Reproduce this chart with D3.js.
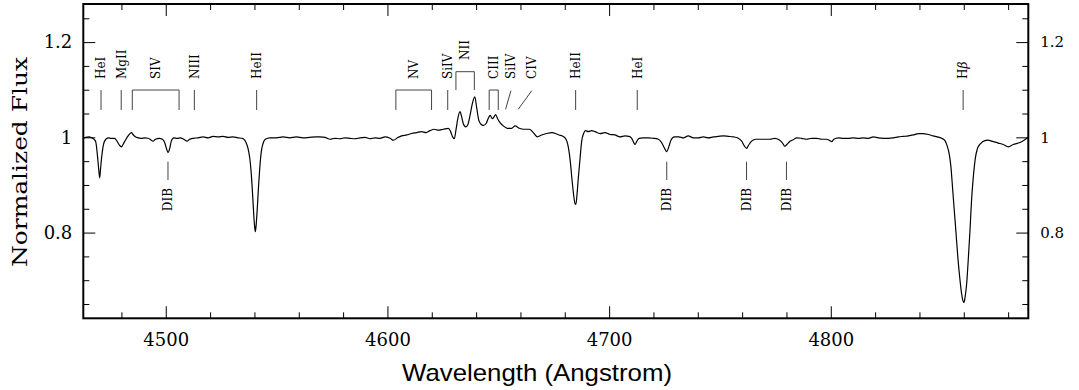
<!DOCTYPE html>
<html>
<head>
<meta charset="utf-8">
<script src="https://cdn.jsdelivr.net/npm/d3@7"></script>
<style>
  html, body { margin: 0; padding: 0; background: #fff; }
  svg { display: block; }
</style>
</head>
<body>
<svg id="chart" width="1079" height="390"></svg>
<script>
// ---------------- data ----------------
const spectrum = [
  [4462.8,0.999],[4464.0,1.000],[4465.5,1.001],[4467.0,0.998],[4468.0,0.994],[4468.4,0.991],[4469.3,0.956],[4469.7,0.935],
  [4470.2,0.915],[4470.6,0.935],[4471.1,0.959],[4471.7,0.980],[4472.4,0.992],[4474.0,0.999],[4475.4,0.998],[4476.9,0.998],
  [4478.0,0.992],[4478.9,0.985],[4480.0,0.980],[4480.7,0.985],[4481.8,0.994],[4483.0,1.003],[4484.5,1.010],[4485.2,1.006],
  [4486.3,1.001],[4487.5,0.999],[4489.0,0.998],[4490.5,0.999],[4492.0,0.998],[4493.2,0.995],[4494.2,0.992],[4495.4,0.996],
  [4497.0,0.998],[4498.5,0.996],[4499.5,0.989],[4500.3,0.977],[4501.0,0.968],[4501.8,0.977],[4502.5,0.992],[4503.6,0.999],
  [4505.1,0.998],[4506.6,0.999],[4508.1,0.996],[4509.6,0.992],[4510.8,0.996],[4512.3,0.998],[4514.6,0.999],[4516.8,1.001],
  [4519.1,0.999],[4521.3,1.002],[4523.6,1.001],[4525.8,1.002],[4528.1,1.000],[4530.3,1.001],[4532.6,0.999],[4534.6,0.998],
  [4535.6,0.994],[4536.4,0.987],[4537.1,0.977],[4537.9,0.956],[4538.5,0.928],[4539.1,0.886],[4539.7,0.837],[4540.1,0.812],
  [4540.4,0.802],[4540.7,0.812],[4541.2,0.844],[4541.8,0.893],[4542.4,0.935],[4543.1,0.970],[4543.9,0.987],[4544.9,0.996],
  [4546.9,0.999],[4549.9,0.999],[4552.9,1.001],[4555.9,0.999],[4558.9,1.001],[4561.9,0.999],[4564.9,1.000],[4567.9,1.001],
  [4569.6,1.001],[4571.8,1.000],[4574.1,0.996],[4576.3,0.998],[4578.6,0.997],[4580.9,0.999],[4583.1,0.998],[4585.4,0.997],
  [4587.6,0.999],[4589.9,1.000],[4592.1,0.997],[4594.4,0.999],[4596.6,0.998],[4598.9,1.001],[4601.2,0.998],[4602.7,0.994],
  [4604.5,0.999],[4606.4,1.003],[4608.7,1.005],[4610.9,1.008],[4613.2,1.010],[4615.4,1.012],[4617.4,1.010],[4619.2,1.014],
  [4621.0,1.017],[4623.0,1.015],[4625.2,1.017],[4627.5,1.019],[4628.5,1.012],[4629.4,1.001],[4630.2,0.997],[4630.9,1.015],
  [4631.7,1.038],[4632.7,1.054],[4633.5,1.043],[4634.2,1.029],[4635.3,1.022],[4636.2,1.026],[4637.3,1.047],[4638.3,1.071],
  [4639.4,1.085],[4640.3,1.061],[4641.2,1.036],[4642.1,1.028],[4643.3,1.025],[4644.5,1.029],[4645.5,1.040],[4646.4,1.046],
  [4647.3,1.039],[4648.1,1.043],[4648.8,1.048],[4649.7,1.039],[4650.8,1.031],[4652.3,1.024],[4654.1,1.019],[4656.0,1.019],
  [4657.6,1.024],[4659.5,1.019],[4661.6,1.017],[4664.0,1.017],[4665.8,1.010],[4667.6,1.001],[4669.6,1.005],[4671.8,1.008],
  [4674.1,1.010],[4676.4,1.007],[4677.4,1.005],[4678.9,1.003],[4680.1,0.999],[4681.0,0.991],[4681.7,0.977],[4682.5,0.949],
  [4683.2,0.914],[4684.0,0.879],[4684.6,0.861],[4685.0,0.859],[4685.5,0.879],[4686.1,0.914],[4686.9,0.956],[4687.6,0.991],
  [4688.5,1.008],[4689.4,1.014],[4690.6,1.012],[4692.1,1.014],[4693.6,1.012],[4695.9,1.008],[4698.1,1.010],[4700.4,1.006],
  [4702.6,1.005],[4704.9,1.001],[4707.2,1.003],[4709.0,1.002],[4710.2,0.998],[4711.1,0.989],[4711.7,0.985],[4712.4,0.991],
  [4713.5,0.998],[4715.4,0.999],[4717.7,0.999],[4719.9,0.998],[4722.2,0.996],[4723.7,0.989],[4724.9,0.978],[4726.0,0.970],
  [4726.9,0.980],[4727.9,0.994],[4729.4,1.001],[4731.5,1.001],[4733.5,0.999],[4735.7,1.003],[4738.0,0.999],[4740.2,0.999],
  [4742.5,1.001],[4744.8,0.999],[4747.0,1.001],[4749.3,1.002],[4751.5,1.003],[4753.8,1.002],[4756.0,1.001],[4758.3,0.998],
  [4759.8,0.992],[4761.0,0.982],[4762.0,0.977],[4763.1,0.985],[4764.3,0.992],[4766.1,0.996],[4768.1,0.996],[4770.3,0.996],
  [4772.6,0.996],[4774.8,0.998],[4776.6,0.995],[4778.1,0.989],[4779.3,0.981],[4780.2,0.985],[4781.6,0.992],[4783.1,0.995],
  [4784.6,0.999],[4786.8,0.998],[4789.1,0.996],[4791.3,0.998],[4793.6,0.998],[4795.9,0.996],[4798.1,0.996],[4799.3,0.994],
  [4800.4,0.991],[4801.4,0.996],[4803.4,0.999],[4805.6,0.998],[4807.9,0.998],[4810.1,0.999],[4812.4,0.998],[4814.7,0.999],
  [4816.9,0.998],[4819.2,1.001],[4821.4,0.999],[4823.7,0.998],[4825.9,0.998],[4828.2,0.999],[4830.5,1.001],[4832.7,1.002],
  [4835.0,1.003],[4837.2,1.005],[4839.5,1.008],[4841.7,1.008],[4844.0,1.006],[4846.2,1.003],[4848.0,1.001],[4850.0,0.998],
  [4851.5,0.993],[4852.5,0.982],[4853.4,0.966],[4854.2,0.938],[4854.9,0.896],[4855.7,0.847],[4856.4,0.805],[4857.3,0.749],
  [4858.2,0.704],[4859.0,0.672],[4859.6,0.657],[4860.1,0.653],[4860.5,0.662],[4861.3,0.693],[4862.0,0.742],[4862.8,0.805],
  [4863.5,0.868],[4864.3,0.917],[4865.2,0.956],[4866.2,0.977],[4867.6,0.987],[4869.5,0.993],[4870.8,0.994],[4873.3,0.991],
  [4875.5,0.988],[4877.8,0.985],[4880.1,0.980],[4882.3,0.985],[4885.3,0.989],[4887.5,0.995],[4889.0,1.000]
];

// single-line identifications (label, wavelength)
const singleLines = [
  ["HeI", 4470.8], ["MgII", 4479.9], ["NIII", 4512.9], ["HeII", 4541.0],
  ["SiIV", 4627.2], ["HeII", 4684.9], ["HeI", 4712.7], ["Hβ", 4859.7]
];
// bracketed multiplets (label, blue wavelength, red wavelength)
const bracketLines = [["SIV", 4484.9, 4506.0], ["NV", 4603.8, 4619.9], ["CIII", 4645.9, 4650.0]];
const upperBrackets = [["NII", 4630.9, 4639.2]];
// slanted identifications (label, wavelength at label end, wavelength at spectrum end)
const slantLines = [["SiIV", 4655.7, 4653.3], ["CIV", 4665.1, 4659.0]];
// diffuse interstellar bands
const dibLines = [4501.0, 4726.0, 4762.0, 4780.0];

const xMajorTicks = [4500, 4600, 4700, 4800];
const xMinorTicks = d3.range(4480, 4881, 20);
const yMajorTicks = [0.8, 1.0, 1.2];
const yMinorTicks = [0.65, 0.7, 0.75, 0.85, 0.9, 0.95, 1.05, 1.1, 1.15, 1.25];
const yTickLabels = {0.8: "0.8", 1: "1", 1.2: "1.2"};

// ---------------- layout ----------------
const svg = d3.select("#chart");
const L = 83.3, R = 1028.3, T = 4, B = 318.3;
const x = d3.scaleLinear().domain([4462.8, 4889.1]).range([L, R]);
const y = d3.scaleLinear().domain([0.62, 1.28]).range([B, T]);

const serif = "'DejaVu Serif', serif";
const sans = "'Liberation Sans', Arial, sans-serif";

function styleAxis(g) {
  g.select(".domain").remove();
  g.selectAll(".tick line").attr("stroke", "#000").attr("stroke-width", 1);
}

// bottom axis
svg.append("g").attr("transform", `translate(0,${B})`)
  .call(d3.axisBottom(x).tickValues(xMajorTicks).tickSize(-12).tickPadding(15).tickFormat(d3.format("d")))
  .call(styleAxis)
  .call(g => g.selectAll("text").attr("font-family", serif).attr("font-size", 18).attr("fill", "#000"));
svg.append("g").attr("transform", `translate(0,${B})`)
  .call(d3.axisBottom(x).tickValues(xMinorTicks.filter(v => !xMajorTicks.includes(v))).tickSize(-6).tickFormat(""))
  .call(styleAxis);
// top axis
svg.append("g").attr("transform", `translate(0,${T})`)
  .call(d3.axisTop(x).tickValues(xMajorTicks).tickSize(-12).tickFormat(""))
  .call(styleAxis);
svg.append("g").attr("transform", `translate(0,${T})`)
  .call(d3.axisTop(x).tickValues(xMinorTicks.filter(v => !xMajorTicks.includes(v))).tickSize(-6).tickFormat(""))
  .call(styleAxis);
// left axis
svg.append("g").attr("transform", `translate(${L},0)`)
  .call(d3.axisLeft(y).tickValues(yMajorTicks).tickSize(-12).tickPadding(11).tickFormat(d => yTickLabels[d]))
  .call(styleAxis)
  .call(g => g.selectAll("text").attr("font-family", serif).attr("font-size", 18).attr("fill", "#000"));
svg.append("g").attr("transform", `translate(${L},0)`)
  .call(d3.axisLeft(y).tickValues(yMinorTicks).tickSize(-6).tickFormat(""))
  .call(styleAxis);
// right axis
svg.append("g").attr("transform", `translate(${R},0)`)
  .call(d3.axisRight(y).tickValues(yMajorTicks).tickSize(-12).tickPadding(12).tickFormat(d => yTickLabels[d]))
  .call(styleAxis)
  .call(g => g.selectAll("text").attr("font-family", serif).attr("font-size", 15).attr("fill", "#000"));
svg.append("g").attr("transform", `translate(${R},0)`)
  .call(d3.axisRight(y).tickValues(yMinorTicks).tickSize(-6).tickFormat(""))
  .call(styleAxis);

// frame
svg.append("rect").attr("x", L).attr("y", T).attr("width", R - L).attr("height", B - T)
  .attr("fill", "none").attr("stroke", "#000").attr("stroke-width", 2);

// spectrum
const clip = svg.append("clipPath").attr("id", "plotclip")
  .append("rect").attr("x", L).attr("y", T).attr("width", R - L).attr("height", B - T);
svg.append("path").datum(spectrum)
  .attr("clip-path", "url(#plotclip)")
  .attr("fill", "none").attr("stroke", "#000").attr("stroke-width", 1.2)
  .attr("stroke-linejoin", "round")
  .attr("d", d3.line().x(d => x(d[0])).y(d => y(d[1])).curve(d3.curveMonotoneX));

// ---------------- identifications ----------------
const idG = svg.append("g");
const tickTop = 90, tickBot = 110, labelBase = 79;
const lineStroke = "#444";

function vLabel(g, txt, xp, yp, anchor) {
  const t = g.append("text")
    .attr("transform", `translate(${xp},${yp}) rotate(-90)`)
    .attr("dy", "0.36em")
    .attr("text-anchor", anchor)
    .attr("font-family", serif).attr("font-size", 12).attr("fill", "#000");
  if (txt === "Hβ") {
    t.append("tspan").text("H");
    t.append("tspan").attr("font-style", "italic").text("β");
  } else {
    t.text(txt);
  }
  return t;
}

singleLines.forEach(([name, w]) => {
  idG.append("line").attr("x1", x(w)).attr("x2", x(w)).attr("y1", tickTop).attr("y2", tickBot)
    .attr("stroke", lineStroke).attr("stroke-width", 1);
  vLabel(idG, name, x(w), labelBase, "start");
});

bracketLines.forEach(([name, w1, w2]) => {
  idG.append("path")
    .attr("d", `M${x(w1)},${tickBot}V${tickTop}H${x(w2)}V${tickBot}`)
    .attr("fill", "none").attr("stroke", lineStroke).attr("stroke-width", 1);
  vLabel(idG, name, (x(w1) + x(w2)) / 2, labelBase, "start");
});

upperBrackets.forEach(([name, w1, w2]) => {
  idG.append("path")
    .attr("d", `M${x(w1)},${tickTop}V${tickTop - 18.3}H${x(w2)}V${tickTop}`)
    .attr("fill", "none").attr("stroke", lineStroke).attr("stroke-width", 1);
  vLabel(idG, name, (x(w1) + x(w2)) / 2, 60, "start");
});

slantLines.forEach(([name, wTop, wBot]) => {
  idG.append("line").attr("x1", x(wTop)).attr("x2", x(wBot)).attr("y1", tickTop + 0.7).attr("y2", tickBot - 0.7)
    .attr("stroke", lineStroke).attr("stroke-width", 1);
  vLabel(idG, name, x(wTop), labelBase, "start");
});

dibLines.forEach(w => {
  idG.append("line").attr("x1", x(w)).attr("x2", x(w)).attr("y1", 161.7).attr("y2", 180)
    .attr("stroke", lineStroke).attr("stroke-width", 1);
  vLabel(idG, "DIB", x(w), 188, "end");
});

// ---------------- axis titles ----------------
svg.append("text")
  .attr("transform", `translate(27,162) rotate(-90)`)
  .attr("text-anchor", "middle")
  .attr("font-family", serif).attr("font-size", 20).attr("fill", "#000")
  .attr("textLength", 210).attr("lengthAdjust", "spacingAndGlyphs")
  .text("Normalized Flux");

svg.append("text")
  .attr("x", 537).attr("y", 381)
  .attr("text-anchor", "middle")
  .attr("font-family", sans).attr("font-size", 24).attr("fill", "#000")
  .attr("textLength", 270).attr("lengthAdjust", "spacingAndGlyphs")
  .text("Wavelength (Angstrom)");
</script>
</body>
</html>
